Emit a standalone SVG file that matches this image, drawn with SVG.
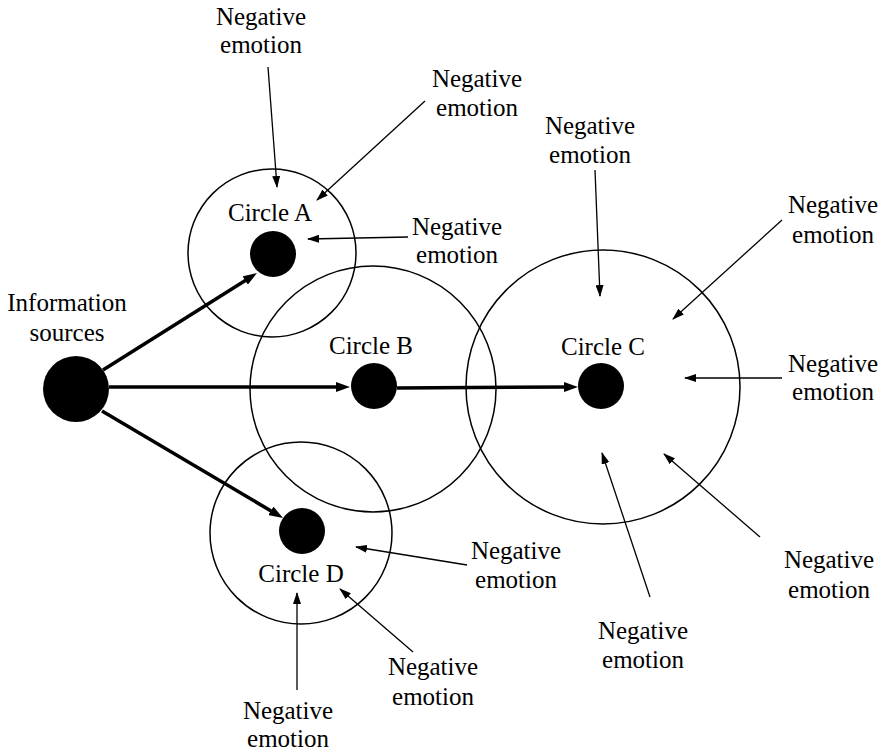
<svg xmlns="http://www.w3.org/2000/svg" width="884" height="754" viewBox="0 0 884 754">
<style>
text{font-family:"Liberation Serif","Times New Roman",serif;font-size:25px;fill:#000;text-anchor:middle}
.ring{fill:none;stroke:#000;stroke-width:1.5}
.dot{fill:#000}
.thin{stroke:#000;stroke-width:1.3;fill:none;marker-end:url(#ah)}
.bold{stroke:#000;stroke-width:3.5;fill:none;marker-end:url(#ahb)}
</style>
<defs>
<marker id="ah" markerUnits="userSpaceOnUse" markerWidth="12" markerHeight="8" refX="11" refY="4" orient="auto"><path d="M0,0 L12,4 L0,8 z" fill="#000"/></marker>
<marker id="ahb" markerUnits="userSpaceOnUse" markerWidth="14" markerHeight="10" refX="3" refY="5" orient="auto"><path d="M0,0 L14,5 L0,10 z" fill="#000"/></marker>
</defs>
<rect width="884" height="754" fill="#fff"/>
<g id="circleA"><circle class="ring" cx="272" cy="253" r="84"/><circle class="dot" cx="273" cy="254" r="23"/><text x="270" y="221">Circle A</text></g>
<g id="circleB"><circle class="ring" cx="373" cy="389" r="123"/><circle class="dot" cx="374" cy="386" r="23"/><text x="371" y="354">Circle B</text></g>
<g id="circleC"><circle class="ring" cx="603" cy="387" r="137"/><circle class="dot" cx="601" cy="386" r="23"/><text x="603" y="355">Circle C</text></g>
<g id="circleD"><circle class="ring" cx="301" cy="533" r="91"/><circle class="dot" cx="302" cy="531" r="23"/><text x="301" y="582">Circle D</text></g>
<g id="info"><circle class="dot" cx="76" cy="389" r="33"/><text x="67" y="311">Information</text><text x="67" y="341">sources</text></g>
<g id="labels">
<g id="neA1"><text x="261" y="25">Negative</text><text x="261" y="53">emotion</text></g>
<g id="neA2"><text x="477" y="87">Negative</text><text x="477" y="116">emotion</text></g>
<g id="neA3"><text x="457" y="235">Negative</text><text x="457" y="263">emotion</text></g>
<g id="neC1"><text x="590" y="134">Negative</text><text x="590" y="163">emotion</text></g>
<g id="neC2"><text x="833" y="213">Negative</text><text x="833" y="243">emotion</text></g>
<g id="neC3"><text x="833" y="372">Negative</text><text x="833" y="400">emotion</text></g>
<g id="neC4"><text x="829" y="568">Negative</text><text x="829" y="598">emotion</text></g>
<g id="neC5"><text x="643" y="639">Negative</text><text x="643" y="668">emotion</text></g>
<g id="neD1"><text x="516" y="559">Negative</text><text x="516" y="588">emotion</text></g>
<g id="neD2"><text x="433" y="675">Negative</text><text x="433" y="705">emotion</text></g>
<g id="neD3"><text x="288" y="719">Negative</text><text x="288" y="747">emotion</text></g>
</g>
<g id="connectors">
<line class="bold" x1="103" y1="370" x2="247.7" y2="278.9"/>
<line class="bold" x1="109" y1="387" x2="339" y2="387"/>
<line class="bold" x1="397" y1="388" x2="567" y2="387"/>
<line class="bold" x1="102" y1="411" x2="273.5" y2="512.4"/>
<line class="thin" x1="268" y1="67" x2="277" y2="187"/>
<line class="thin" x1="425" y1="101" x2="317" y2="200"/>
<line class="thin" x1="408" y1="237" x2="308" y2="239"/>
<line class="thin" x1="595" y1="170" x2="600" y2="296"/>
<line class="thin" x1="782" y1="220" x2="673" y2="319"/>
<line class="thin" x1="782" y1="378" x2="685" y2="378"/>
<line class="thin" x1="760" y1="537" x2="664" y2="454"/>
<line class="thin" x1="650" y1="597" x2="602" y2="453"/>
<line class="thin" x1="467" y1="565" x2="356" y2="547"/>
<line class="thin" x1="413" y1="652" x2="340" y2="589"/>
<line class="thin" x1="297" y1="690" x2="297" y2="593"/>
</g>
</svg>
